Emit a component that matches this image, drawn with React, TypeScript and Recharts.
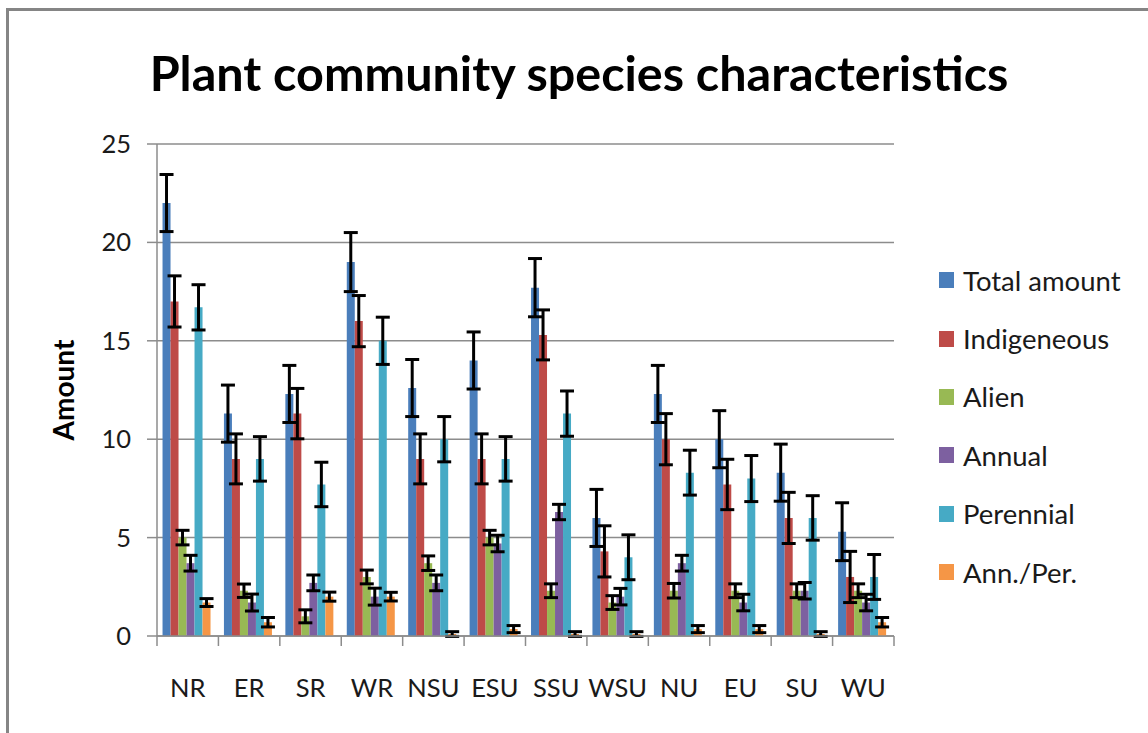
import React from 'react';
import { BarChart, Bar, XAxis, YAxis, CartesianGrid, ErrorBar, Legend } from 'recharts';

const categories = ['NR', 'ER', 'SR', 'WR', 'NSU', 'ESU', 'SSU', 'WSU', 'NU', 'EU', 'SU', 'WU'];
const seriesNames = ['Total amount', 'Indigeneous', 'Alien', 'Annual', 'Perennial', 'Ann./Per.'];
const seriesColors = ['#4A7EBB', '#BE4B48', '#98B954', '#7D60A0', '#46AAC5', '#F59646'];

const totalAmount = [22, 11.3, 12.3, 19, 12.6, 14, 17.7, 6, 12.3, 10, 8.3, 5.3];
const totalErr = [1.45, 1.45, 1.45, 1.5, 1.45, 1.45, 1.48, 1.45, 1.45, 1.45, 1.45, 1.47];
const indigeneous = [17, 9, 11.3, 16, 9, 9, 15.3, 4.3, 10, 7.7, 6, 3];
const indigeneousErr = [1.3, 1.27, 1.28, 1.3, 1.27, 1.27, 1.27, 1.3, 1.3, 1.28, 1.3, 1.3];
const alien = [5, 2.3, 1, 3, 3.7, 5, 2.3, 1.7, 2.3, 2.3, 2.3, 2.3];
const alienErr = [0.37, 0.34, 0.33, 0.35, 0.37, 0.37, 0.35, 0.35, 0.37, 0.35, 0.35, 0.35];
const annual = [3.7, 1.7, 2.7, 2, 2.7, 4.7, 6.3, 2, 3.7, 1.7, 2.3, 1.7];
const annualErr = [0.4, 0.43, 0.4, 0.43, 0.4, 0.42, 0.39, 0.42, 0.4, 0.42, 0.42, 0.42];
const perennial = [16.7, 9, 7.7, 15, 10, 9, 11.3, 4, 8.3, 8, 6, 3];
const perennialErr = [1.15, 1.13, 1.13, 1.2, 1.15, 1.13, 1.15, 1.14, 1.14, 1.17, 1.13, 1.14];
const annPer = [1.7, 0.7, 2, 2, 0.1, 0.35, 0.1, 0.1, 0.35, 0.35, 0.1, 0.7];
const annPerErr = [0.2, 0.24, 0.23, 0.22, 0.12, 0.18, 0.12, 0.12, 0.18, 0.18, 0.12, 0.24];
const yTicks = [0, 5, 10, 15, 20, 25];

const seriesKeys = ['total', 'indig', 'alien', 'annual', 'perennial', 'annPer'];

const data = categories.map((c, i) => ({
  name: c,
  total: totalAmount[i], totalErr: totalErr[i],
  indig: indigeneous[i], indigErr: indigeneousErr[i],
  alien: alien[i], alienErr: alienErr[i],
  annual: annual[i], annualErr: annualErr[i],
  perennial: perennial[i], perennialErr: perennialErr[i],
  annPer: annPer[i], annPerErr: annPerErr[i],
}));

const W = 1148;
const H = 733;
const PLOT_LEFT = 157;
const PLOT_RIGHT = 894;
const PLOT_TOP = 144;
const PLOT_BOTTOM = 636;
const X_AXIS_H = 60;
const Y_AXIS_W = 117;
const FONT = 'Lato, "Open Sans", sans-serif';
const GRID = '#8c8c8c';
const BAND = (PLOT_RIGHT - PLOT_LEFT) / categories.length;

const CatTick = (props: any) => {
  const { x, y, payload, index } = props;
  const last = index === categories.length - 1;
  return (
    <g>
      <line x1={x - BAND / 2} y1={y} x2={x - BAND / 2} y2={y + 10} stroke={GRID} strokeWidth={1.5} />
      {last && <line x1={x + BAND / 2} y1={y} x2={x + BAND / 2} y2={y + 10} stroke={GRID} strokeWidth={1.5} />}
      <text x={x} y={y + 61} textAnchor="middle" fontFamily={FONT} fontSize={25.5} fill="#1a1a1a">
        {payload.value}
      </text>
    </g>
  );
};

const renderLegend = (props: any) => {
  const payload = [...(props.payload || [])].sort(
    (a: any, b: any) => seriesNames.indexOf(a.value) - seriesNames.indexOf(b.value)
  );
  return (
    <div style={{ position: 'absolute', left: 939, top: 251, fontFamily: FONT, fontSize: 27.5, color: '#1a1a1a', whiteSpace: 'nowrap' }}>
      {payload.map((p: any, i: number) => (
        <div key={i} style={{ display: 'flex', alignItems: 'center', height: 58.4 }}>
          <span style={{ display: 'inline-block', width: 15, height: 16, background: p.color, marginRight: 9 }} />
          <span>{p.value}</span>
        </div>
      ))}
    </div>
  );
};

const YLabel = (props: any) => {
  const { viewBox } = props;
  const cy = viewBox.y + viewBox.height / 2;
  return (
    <text
      transform={`translate(63, ${cy}) rotate(-90)`}
      textAnchor="middle"
      dominantBaseline="central"
      fontFamily={FONT}
      fontWeight="bold"
      fontSize={28}
      fill="#000"
    >
      Amount
    </text>
  );
};

export default function App() {
  return (
    <div style={{ position: 'absolute', left: 0, top: 0, width: W, height: H, background: '#fff', overflow: 'hidden' }}>
      <div style={{ position: 'absolute', left: 6, top: 8, right: 0, bottom: 0, borderTop: '3px solid #858585', borderLeft: '3px solid #858585' }} />
      <div
        style={{
          position: 'absolute', left: 0, width: 1158, top: 40, textAlign: 'center',
          fontFamily: FONT, fontWeight: 'bold', fontSize: 48.5, color: '#000', lineHeight: '64px',
        }}
      >
        Plant community species characteristics
      </div>
      <BarChart
        width={W}
        height={H}
        data={data}
        margin={{ top: PLOT_TOP, right: W - PLOT_RIGHT, bottom: H - PLOT_BOTTOM - X_AXIS_H, left: PLOT_LEFT - Y_AXIS_W }}
        barCategoryGap="9%"
        barGap={0}
        style={{ position: 'absolute', left: 0, top: 0 }}
      >
        <CartesianGrid vertical={false} stroke={GRID} strokeWidth={1.5} />
        <XAxis
          dataKey="name"
          height={X_AXIS_H}
          tickSize={0}
          tickMargin={0}
          tickLine={false}
          axisLine={{ stroke: GRID, strokeWidth: 1.5 }}
          tick={<CatTick />}
          interval={0}
        />
        <YAxis
          width={Y_AXIS_W}
          domain={[0, 25]}
          ticks={yTicks}
          allowDataOverflow
          tickSize={10}
          tickMargin={16}
          tickLine={{ stroke: GRID, strokeWidth: 1.5 }}
          axisLine={{ stroke: GRID, strokeWidth: 1.5 }}
          tick={{ fontFamily: FONT, fontSize: 25.5, fill: '#1a1a1a' }}
          label={<YLabel />}
        />
        <Legend
          content={renderLegend}
          layout="horizontal"
          verticalAlign="bottom"
          align="left"
          wrapperStyle={{ left: 0, top: 0, width: 0, height: 0, overflow: 'visible' }}
        />
        {seriesKeys.map((k, i) => (
          <Bar key={k} dataKey={k} name={seriesNames[i]} fill={seriesColors[i]} isAnimationActive={false}>
            <ErrorBar dataKey={k + 'Err'} width={7} strokeWidth={3} stroke="#000" direction="y" />
          </Bar>
        ))}
      </BarChart>
    </div>
  );
}
